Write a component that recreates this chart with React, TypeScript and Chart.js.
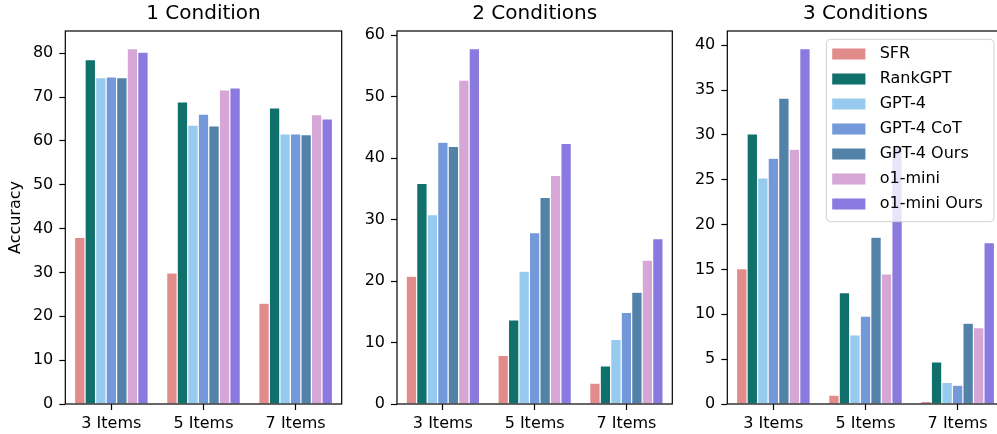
import React, { useEffect, useRef } from 'react';
import { Chart, registerables } from 'chart.js';

Chart.register(...registerables);

// ---------- data ----------
const categories = ['3 Items', '5 Items', '7 Items'];
const seriesNames = ['SFR', 'RankGPT', 'GPT-4', 'GPT-4 CoT', 'GPT-4 Ours', 'o1-mini', 'o1-mini Ours'];
const seriesColors = ['#E28B8B', '#0F706C', '#96CAEE', '#7399DA', '#5282A8', '#D6A7D6', '#8A7ADF'];
const panelTitles = ['1 Condition', '2 Conditions', '3 Conditions'];
const yStepSizes = [10, 10, 5];

// 1 Condition
const cond1SFR = [38.0, 29.9, 23.0];
const cond1RankGPT = [78.5, 68.9, 67.5];
const cond1GPT4 = [74.4, 63.6, 61.6];
const cond1GPT4CoT = [74.6, 66.1, 61.6];
const cond1GPT4Ours = [74.4, 63.4, 61.4];
const cond1O1Mini = [81.0, 71.6, 66.0];
const cond1O1MiniOurs = [80.2, 72.1, 65.0];

// 2 Conditions
const cond2SFR = [20.8, 7.9, 3.4];
const cond2RankGPT = [35.9, 13.7, 6.2];
const cond2GPT4 = [30.8, 21.6, 10.5];
const cond2GPT4CoT = [42.6, 27.9, 14.9];
const cond2GPT4Ours = [41.9, 33.6, 18.2];
const cond2O1Mini = [52.7, 37.2, 23.4];
const cond2O1MiniOurs = [57.8, 42.4, 26.9];

// 3 Conditions
const cond3SFR = [15.1, 1.0, 0.3];
const cond3RankGPT = [30.1, 12.4, 4.7];
const cond3GPT4 = [25.2, 7.7, 2.4];
const cond3GPT4CoT = [27.4, 9.8, 2.1];
const cond3GPT4Ours = [34.1, 18.6, 9.0];
const cond3O1Mini = [28.4, 14.5, 8.5];
const cond3O1MiniOurs = [39.6, 28.8, 18.0];

const panelSeries = [
  [cond1SFR, cond1RankGPT, cond1GPT4, cond1GPT4CoT, cond1GPT4Ours, cond1O1Mini, cond1O1MiniOurs],
  [cond2SFR, cond2RankGPT, cond2GPT4, cond2GPT4CoT, cond2GPT4Ours, cond2O1Mini, cond2O1MiniOurs],
  [cond3SFR, cond3RankGPT, cond3GPT4, cond3GPT4CoT, cond3GPT4Ours, cond3O1Mini, cond3O1MiniOurs],
];

// ---------- layout (positions only) ----------
const H = 434;
const panelLayout = [
  { left: 0, width: 345, yAxisWidth: 65.3, padRight: 3.3, yTitle: 'Accuracy', legend: false },
  { left: 357, width: 319, yAxisWidth: 40, padRight: 3.7, yTitle: '', legend: false },
  { left: 687, width: 320, yAxisWidth: 40.3, padRight: 3.3, yTitle: '', legend: true },
];

const FONT = "'DejaVu Sans', 'Liberation Sans', sans-serif";

const framePlugin = {
  id: 'frameBox',
  afterDraw(chart: any, _args: any, opts: any) {
    const { ctx, chartArea: a } = chart;
    ctx.save();
    ctx.strokeStyle = '#000';
    ctx.lineWidth = 1.2;
    ctx.strokeRect(a.left, a.top, a.right - a.left, a.bottom - a.top);
    if (opts && opts.title) {
      ctx.font = `20px ${FONT}`;
      ctx.fillStyle = '#000';
      ctx.textAlign = 'center';
      ctx.textBaseline = 'middle';
      ctx.fillText(opts.title, (a.left + a.right) / 2, 13.5);
    }
    ctx.restore();
  },
};

const insideLegendPlugin = {
  id: 'insideLegend',
  afterDraw(chart: any, _args: any, opts: any) {
    if (!opts || !opts.show) return;
    const { ctx, chartArea: a } = chart;
    const w = 167.6;
    const h = 182.4;
    const x0 = a.right - 9.7 - w;
    const y0 = a.top + 8.3;
    ctx.save();
    ctx.beginPath();
    ctx.roundRect(x0, y0, w, h, 4);
    ctx.fillStyle = 'rgba(255,255,255,0.8)';
    ctx.fill();
    ctx.strokeStyle = 'rgba(204,204,204,0.9)';
    ctx.lineWidth = 1;
    ctx.stroke();
    ctx.font = `16px ${FONT}`;
    ctx.textBaseline = 'middle';
    ctx.textAlign = 'left';
    chart.data.datasets.forEach((ds: any, i: number) => {
      const cy = y0 + 14.7 + 25 * i;
      ctx.fillStyle = ds.backgroundColor;
      ctx.fillRect(x0 + 5.6, cy - 5.8, 33.7, 11.6);
      ctx.strokeStyle = 'rgba(255,255,255,0.7)';
      ctx.lineWidth = 0.6;
      ctx.strokeRect(x0 + 5.6, cy - 5.8, 33.7, 11.6);
      ctx.fillStyle = '#000';
      ctx.fillText(ds.label, x0 + 53.3, cy);
    });
    ctx.restore();
  },
};

function Panel({ idx }: { idx: number }) {
  const ref = useRef<HTMLCanvasElement | null>(null);
  const lay = panelLayout[idx];
  useEffect(() => {
    if (!ref.current) return;
    const series = panelSeries[idx];
    const yMax = Math.max(...series.flat()) * 1.05;
    const chart = new Chart(ref.current, {
      type: 'bar',
      data: {
        labels: categories,
        datasets: series.map((vals, i) => ({
          label: seriesNames[i],
          data: vals,
          backgroundColor: seriesColors[i],
          borderColor: 'rgba(255,255,255,0.7)',
          borderWidth: 0.6,
          categoryPercentage: 0.8,
          barPercentage: 1.0,
        })),
      },
      plugins: [framePlugin, insideLegendPlugin],
      options: {
        animation: false,
        responsive: false,
        devicePixelRatio: 1,
        layout: { padding: { left: 0, right: lay.padRight, top: 31, bottom: 0 } },
        plugins: {
          legend: { display: false },
          tooltip: { enabled: false },
          title: { display: false },
          frameBox: { title: panelTitles[idx] },
          insideLegend: { show: lay.legend },
        } as any,
        scales: {
          x: {
            type: 'category',
            offset: true,
            grid: {
              display: true,
              drawOnChartArea: false,
              drawTicks: true,
              tickLength: 6,
              tickWidth: 1.2,
              tickColor: '#000',
              offset: false,
            },
            border: { display: false },
            ticks: {
              color: '#000',
              font: { family: FONT, size: 16 },
              padding: 4,
              autoSkip: false,
              maxRotation: 0,
              minRotation: 0,
            },
            afterFit: (s: any) => {
              s.height = 30;
            },
          },
          y: {
            type: 'linear',
            min: 0,
            max: yMax,
            grid: {
              display: true,
              drawOnChartArea: false,
              drawTicks: true,
              tickLength: 6,
              tickWidth: 1.2,
              tickColor: '#000',
            },
            border: { display: false },
            ticks: {
              stepSize: yStepSizes[idx],
              includeBounds: false,
              color: '#000',
              font: { family: FONT, size: 16 },
              padding: 6,
            },
            title: {
              display: !!lay.yTitle,
              text: lay.yTitle,
              color: '#000',
              font: { family: FONT, size: 16, lineHeight: 1.2 },
              padding: { top: 6.2, bottom: 0 },
            },
            afterFit: (s: any) => {
              s.width = lay.yAxisWidth;
            },
          },
        },
      } as any,
    });
    return () => chart.destroy();
  }, [idx]);
  return (
    <canvas
      ref={ref}
      width={lay.width}
      height={H}
      style={{ position: 'absolute', left: lay.left, top: 0, width: lay.width, height: H }}
    />
  );
}

export default function App() {
  return (
    <div
      style={{
        position: 'fixed',
        left: 0,
        top: 0,
        width: 997,
        height: H,
        overflow: 'hidden',
        background: '#fff',
      }}
    >
      {panelLayout.map((_, i) => (
        <Panel key={i} idx={i} />
      ))}
    </div>
  );
}
